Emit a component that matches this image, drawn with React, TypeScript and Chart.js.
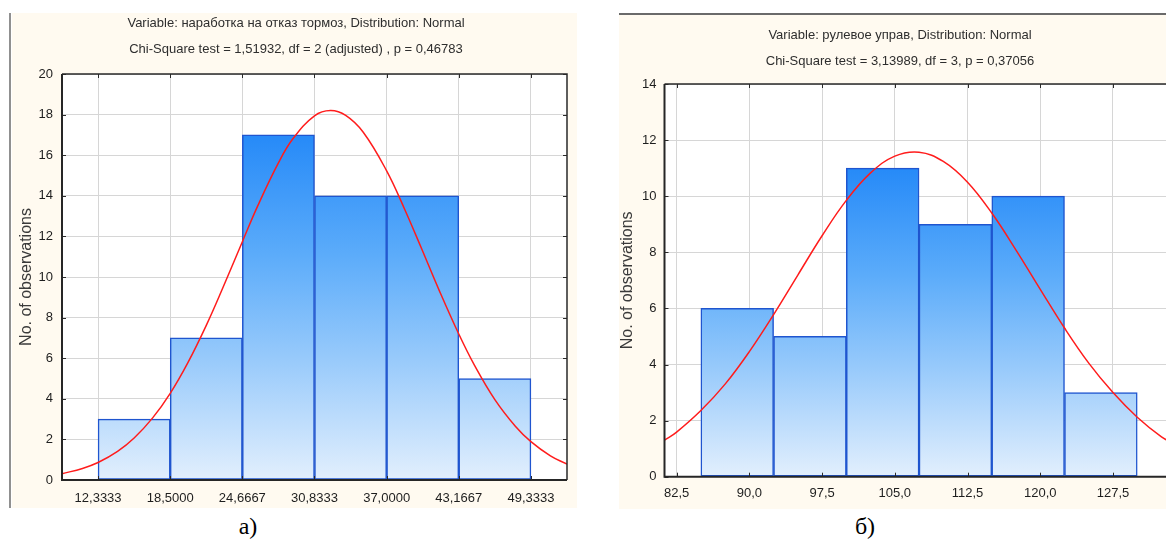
import React, { useEffect, useRef } from "react";
import { Chart, registerables } from "chart.js";

Chart.register(...registerables);

// ---------- а) наработка на отказ тормоз ----------
const brakeBinCenters = [15.4167, 21.5833, 27.75, 33.9167, 40.0833, 46.25];
const brakeCounts = [3, 7, 17, 14, 14, 5];
const brakeTickValues = [12.3333, 18.5, 24.6667, 30.8333, 37.0, 43.1667, 49.3333];
const brakeCurveX = [9.25, 11, 12.3333, 14, 15.4167, 17, 18.5, 20, 21.5833, 23, 24.6667, 26, 27.75, 29, 30.8333, 32.2, 33.5, 35, 37, 38.5, 40, 41.5, 43.1667, 44.5, 46.25, 48, 49.3333, 51, 52.4167];
const brakeCurveY = [0.31, 0.57, 0.86, 1.41, 2.07, 3.06, 4.27, 5.77, 7.62, 9.47, 11.74, 13.53, 15.62, 16.82, 17.94, 18.2, 17.96, 17.13, 15.23, 13.39, 11.38, 9.33, 7.19, 5.66, 3.96, 2.65, 1.89, 1.19, 0.78];
const brakeTitle = "Variable: наработка на отказ тормоз, Distribution: Normal";
const brakeSubtitle = "Chi-Square test = 1,51932, df = 2 (adjusted) , p = 0,46783";

// ---------- б) рулевое управ ----------
const steerBinCenters = [88.75, 96.25, 103.75, 111.25, 118.75, 126.25];
const steerCounts = [6, 5, 11, 9, 10, 3];
const steerTickValues = [82.5, 90.0, 97.5, 105.0, 112.5, 120.0, 127.5];
const steerCurveX = [81.25, 82.5, 85, 87.5, 90, 92.5, 95, 97.5, 100, 102.5, 105, 107.5, 110, 112.5, 115, 117.5, 120, 122.5, 125, 127.5, 130, 132.5, 133.75];
const steerCurveY = [1.3, 1.59, 2.36, 3.3, 4.46, 5.78, 7.19, 8.59, 9.85, 10.83, 11.43, 11.57, 11.24, 10.5, 9.4, 8.08, 6.68, 5.3, 4.05, 3.0, 2.12, 1.42, 1.18];
const steerTitle = "Variable: рулевое управ, Distribution: Normal";
const steerSubtitle = "Chi-Square test = 3,13989, df = 3, p = 0,37056";

const yAxisTitle = "No. of observations";

const SANS = "'Liberation Sans', Arial, sans-serif";
const CREAM = "#fffaf0";

const bgPlugin = {
  id: "panelBg",
  beforeDraw(chart: any) {
    const { ctx, chartArea: a, width, height } = chart;
    ctx.save();
    ctx.fillStyle = CREAM;
    ctx.fillRect(0, 0, width, height);
    if (a) {
      ctx.fillStyle = "#ffffff";
      ctx.fillRect(a.left, a.top, a.right - a.left, a.bottom - a.top);
    }
    ctx.restore();
  },
};

const framePlugin = {
  id: "plotFrame",
  afterDraw(chart: any) {
    const { ctx, chartArea: a, scales } = chart;
    const xs = scales.x;
    const ys = scales.y;
    ctx.save();
    ctx.strokeStyle = "#2a2a2a";
    ctx.lineWidth = 1;
    ctx.beginPath();
    xs.ticks.forEach((t: any) => {
      const px = Math.round(xs.getPixelForValue(t.value)) + 0.5;
      ctx.moveTo(px, a.bottom);
      ctx.lineTo(px, a.bottom - 4);
      ctx.moveTo(px, a.top);
      ctx.lineTo(px, a.top + 4);
    });
    ys.ticks.forEach((t: any) => {
      const py = Math.round(ys.getPixelForValue(t.value)) + 0.5;
      ctx.moveTo(a.left, py);
      ctx.lineTo(a.left + 4, py);
      ctx.moveTo(a.right, py);
      ctx.lineTo(a.right - 4, py);
    });
    ctx.stroke();
    ctx.lineWidth = 1.5;
    ctx.beginPath();
    ctx.moveTo(a.left, a.top);
    ctx.lineTo(a.right, a.top);
    ctx.lineTo(a.right, a.bottom);
    ctx.stroke();
    ctx.lineWidth = 2;
    ctx.strokeStyle = "#262626";
    ctx.beginPath();
    ctx.moveTo(a.left, a.top);
    ctx.lineTo(a.left, a.bottom);
    ctx.lineTo(a.right, a.bottom);
    ctx.stroke();
    ctx.restore();
  },
};

type Spec = {
  centers: number[];
  counts: number[];
  tickValues: number[];
  curveX: number[];
  curveY: number[];
  title: string;
  subtitle: string;
  xMin: number;
  xMax: number;
  yMax: number;
  decimals: number;
  yScaleWidth: number;
  xScaleHeight: number;
  yLabelPad: number;
  xLabelPad: number;
  yTitlePad: number;
  titlePad: { top: number; bottom: number };
  subtitlePad: { top: number; bottom: number };
  leftPad: number;
  rightPad: number;
};

function makeConfig(s: Spec): any {
  const maxCount = Math.max(...s.counts);
  return {
    type: "bar",
    data: {
      datasets: [
        {
          type: "line",
          order: 0,
          data: s.curveX.map((x, i) => ({ x, y: s.curveY[i] })),
          borderColor: "#ff1c1c",
          borderWidth: 1.5,
          pointRadius: 0,
          tension: 0.4,
          fill: false,
        },
        {
          type: "bar",
          order: 1,
          data: s.centers.map((x, i) => ({ x, y: s.counts[i] })),
          barPercentage: 1,
          categoryPercentage: 1,
          borderColor: "#1f55cf",
          borderWidth: 1.5,
          borderSkipped: false,
          backgroundColor: (context: any) => {
            const chart = context.chart;
            const { ctx, chartArea } = chart;
            if (!chartArea) return "#7fb8fa";
            const yTop = chart.scales.y.getPixelForValue(maxCount);
            const yBot = chart.scales.y.getPixelForValue(0);
            const g = ctx.createLinearGradient(0, yTop, 0, yBot);
            g.addColorStop(0, "rgb(38,138,248)");
            g.addColorStop(0.35, "rgb(92,172,250)");
            g.addColorStop(0.65, "rgb(152,202,251)");
            g.addColorStop(1, "rgb(226,239,253)");
            return g;
          },
        },
      ],
    },
    options: {
      responsive: false,
      animation: false,
      devicePixelRatio: 1,
      layout: { padding: { left: s.leftPad, right: s.rightPad, top: 0, bottom: 0 } },
      plugins: {
        legend: { display: false },
        tooltip: { enabled: false },
        title: {
          display: true,
          text: s.title,
          color: "#2e2e2e",
          font: { family: SANS, size: 13, weight: "normal", lineHeight: 1.2 },
          padding: s.titlePad,
        },
        subtitle: {
          display: true,
          text: s.subtitle,
          color: "#2e2e2e",
          font: { family: SANS, size: 13, weight: "normal", lineHeight: 1.2 },
          padding: s.subtitlePad,
        },
      },
      scales: {
        x: {
          type: "linear",
          min: s.xMin,
          max: s.xMax,
          offset: false,
          afterBuildTicks: (scale: any) => {
            scale.ticks = s.tickValues.map((v) => ({ value: v }));
          },
          afterFit: (scale: any) => {
            scale.height = s.xScaleHeight;
          },
          ticks: {
            autoSkip: false,
            maxRotation: 0,
            padding: s.xLabelPad,
            color: "#1e1e1e",
            font: { family: SANS, size: 13 },
            callback: (v: any) => Number(v).toFixed(s.decimals).replace(".", ","),
          },
          grid: { color: "#d6d6d6", lineWidth: 1, drawTicks: false, offset: false },
          border: { display: false },
        },
        y: {
          type: "linear",
          min: 0,
          max: s.yMax,
          afterFit: (scale: any) => {
            scale.width = s.yScaleWidth;
          },
          ticks: {
            stepSize: 2,
            padding: s.yLabelPad,
            color: "#1e1e1e",
            font: { family: SANS, size: 13 },
          },
          grid: { color: "#d6d6d6", lineWidth: 1, drawTicks: false },
          border: { display: false },
          title: {
            display: true,
            text: yAxisTitle,
            color: "#3a3a3a",
            font: { family: SANS, size: 16, lineHeight: 1.2 },
            padding: { top: s.yTitlePad, bottom: 0 },
          },
        },
      },
    },
    plugins: [bgPlugin, framePlugin],
  };
}

const brakeSpec: Spec = {
  centers: brakeBinCenters,
  counts: brakeCounts,
  tickValues: brakeTickValues,
  curveX: brakeCurveX,
  curveY: brakeCurveY,
  title: brakeTitle,
  subtitle: brakeSubtitle,
  xMin: 9.25,
  xMax: 52.4167,
  yMax: 20,
  decimals: 4,
  yScaleWidth: 37,
  xScaleHeight: 28,
  yLabelPad: 9,
  xLabelPad: 10.5,
  yTitlePad: -8.3,
  titlePad: { top: 2.5, bottom: 10.4 },
  subtitlePad: { top: 0, bottom: 16.9 },
  leftPad: 13,
  rightPad: 10,
};

const steerSpec: Spec = {
  centers: steerBinCenters,
  counts: steerCounts,
  tickValues: steerTickValues,
  curveX: steerCurveX,
  curveY: steerCurveY,
  title: steerTitle,
  subtitle: steerSubtitle,
  xMin: 81.25,
  xMax: 133.75,
  yMax: 14,
  decimals: 1,
  yScaleWidth: 38.1,
  xScaleHeight: 32.3,
  yLabelPad: 8,
  xLabelPad: 8.5,
  yTitlePad: -8,
  titlePad: { top: 12.2, bottom: 10.4 },
  subtitlePad: { top: 0, bottom: 15.2 },
  leftPad: 7.4,
  rightPad: 7.4,
};

function Histogram({ spec, left, top, width, height }: { spec: Spec; left: number; top: number; width: number; height: number }) {
  const ref = useRef<HTMLCanvasElement | null>(null);
  useEffect(() => {
    if (!ref.current) return;
    const chart = new Chart(ref.current, makeConfig(spec));
    return () => chart.destroy();
  }, [spec]);
  return (
    <canvas
      ref={ref}
      width={width}
      height={height}
      style={{ position: "absolute", left, top, width, height, display: "block" }}
    />
  );
}

export default function App() {
  return (
    <div
      style={{
        position: "fixed",
        left: 0,
        top: 0,
        width: 1166,
        height: 541,
        overflow: "hidden",
        background: "#ffffff",
      }}
    >
      <div style={{ position: "absolute", left: 9, top: 13, width: 2, height: 495, background: "#909090" }} />
      <Histogram spec={brakeSpec} left={12} top={13} width={565} height={495} />
      <div style={{ position: "absolute", left: 619, top: 13, width: 560, height: 1.5, background: "#6a6a6a" }} />
      <Histogram spec={steerSpec} left={619} top={15} width={562} height={494} />
      <div
        style={{
          position: "absolute",
          left: 198,
          top: 514,
          width: 100,
          textAlign: "center",
          fontFamily: "'Liberation Serif', 'Times New Roman', serif",
          fontSize: 24,
          lineHeight: "24px",
          color: "#000",
        }}
      >
        а)
      </div>
      <div
        style={{
          position: "absolute",
          left: 815,
          top: 514,
          width: 100,
          textAlign: "center",
          fontFamily: "'Liberation Serif', 'Times New Roman', serif",
          fontSize: 24,
          lineHeight: "24px",
          color: "#000",
        }}
      >
        б)
      </div>
    </div>
  );
}
